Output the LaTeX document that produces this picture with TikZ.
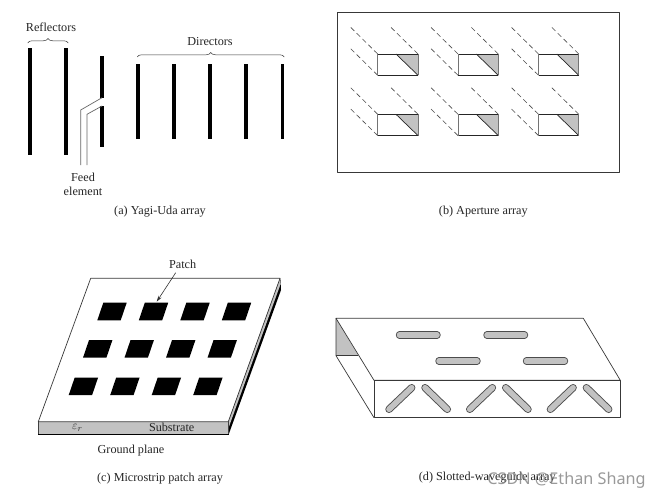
\documentclass[tikz,border=0pt]{standalone}
\usepackage{fontspec}
\setmainfont{Liberation Serif}
\newfontfamily\wmfont{Noto Sans}
\usetikzlibrary{decorations.pathreplacing,arrows.meta}
\definecolor{greyfill}{gray}{0.76}
\definecolor{edge}{gray}{0.22}
\tikzset{
  bar/.style={fill=black,draw=none},
  lbl/.style={inner sep=0pt,font=\fontsize{12.2}{14}\selectfont,text=black!85},
  captext/.style={inner sep=0pt,font=\fontsize{12.2}{14}\selectfont,text=black!85},
  bracket/.style={draw=edge,line width=.5pt,decorate,decoration={brace,amplitude=4.5pt}},
  dashline/.style={draw=black!70,line width=.6pt,dash pattern=on 5pt off 3.2pt},
  slotout/.style={draw=black!70,line width=7.4pt,line cap=round},
  slotin/.style={draw=greyfill,line width=5.6pt,line cap=round},
  outline/.style={draw=edge,line width=.7pt,line join=round},
}
\begin{document}
\begin{tikzpicture}[x=1pt,y=-1pt]
\useasboundingbox (0,0) rectangle (660,498);
\fill[white] (0,0) rectangle (660,498);
% (a) Yagi-Uda
\fill[bar] (28,48) rectangle (31.6,155);
\fill[bar] (63.6,48) rectangle (67.8,155);
\fill[bar] (100.4,56) rectangle (103.6,98);
\fill[bar] (100.4,106) rectangle (103.6,147);
\foreach \x/\w in {138/2,173.7/2,210/1.8,246/2,282.3/1.8}
  \fill[bar] (\x-\w,64) rectangle (\x+\w,138.7);
\draw[draw=black!60,line width=.7pt] (80.7,165) -- (80.7,110) -- (102,97.7);
\draw[draw=black!60,line width=.7pt] (87,165) -- (87,114.3) -- (102,106);
\draw[bracket] (27.7,43) -- (68.3,43);
\draw[bracket] (137.3,57) -- (284.3,57);
\node[lbl] (reflectors) at (51,27) {Reflectors};
\node[lbl] (directors) at (210,42) {Directors};
\node[lbl] (feed) at (83,177) {Feed};
\node[lbl] (element) at (83,191) {element};
\node[captext] (capa) at (160,212) {(a) Yagi-Uda array};
% (b) Aperture
\draw[outline] (337,12.3) rectangle (619.3,172.3);
\foreach \cx in {377.7,458,538.5}
  \foreach \cy in {54,114.3}{
    \fill[greyfill] (\cx+18.3,\cy) -- (\cx+40.3,\cy) -- (\cx+40.3,\cy+21.3) -- cycle;
    \draw[dashline] (\cx,\cy) -- ++(-28.7,-28.3);
    \draw[dashline] (\cx+40.3,\cy) -- ++(-28.7,-28.3);
    \draw[dashline] (\cx,\cy+21.3) -- ++(-28.7,-28.3);
    \draw[draw=black!85,line width=.7pt] (\cx,\cy) -- (\cx+40.3,\cy);
    \draw[draw=black!85,line width=.7pt] (\cx,\cy+21.3) -- (\cx+40.3,\cy+21.3);
    \draw[draw=black!85,line width=.7pt] (\cx+18.3,\cy) -- (\cx+40.3,\cy+21.3);
    \draw[draw=black!55,line width=1pt] (\cx,\cy) -- (\cx,\cy+21.3);
    \draw[draw=black!55,line width=1pt] (\cx+40.3,\cy) -- (\cx+40.3,\cy+21.3);
  }
\node[captext] (capb) at (483.3,212) {(b) Aperture array};
% (c) Microstrip
\fill[black] (228.3,421.7) -- (280.4,278.3) -- (281,290) -- (228.6,434.6) -- cycle;
\fill[greyfill] (228.3,421.7) -- (280,278.3) -- (280.6,284) -- (228.5,428) -- cycle;
\fill[greyfill] (38.3,421.7) rectangle (228.3,433.6);
\draw[outline] (90.7,278.3) -- (280,278.3) -- (228.3,421.7) -- (38.3,421.7) -- cycle;
\draw[draw=black!75,line width=.6pt] (38.3,421.7) -- (38.3,433.6);
\draw[draw=black,line width=1pt] (38.3,434) -- (228.6,434);
\draw[draw=black!75,line width=.6pt] (228.3,421.7) -- (228.3,434);
\foreach \r in {0,1,2}
  \foreach \c in {0,1,2,3}
    \fill[black,shift={(41.5*\c-14.3*\r,37.4*\r)}]
      (103.3,302.7) -- (126.7,302.7) -- (120.7,320.3) -- (97.3,320.3) -- cycle;
\node[lbl] (patch) at (182.7,264) {Patch};
\coordinate (patchtip) at (156.7,301.7);
\draw[draw=black!80,line width=.6pt,-{Stealth[length=6pt,width=3.6pt]}] (175.7,272.7) -- (patchtip);
\node[lbl] (er) at (77.3,427.7) {$\varepsilon_r$};
\node[lbl] (substrate) at (171.7,427.7) {Substrate};
\node[lbl] (ground) at (131,451) {Ground plane};
\node[captext] (capc) at (160,478.7) {(c) Microstrip patch array};
% (d) Slotted waveguide
\fill[greyfill] (336,318.3) -- (336,355.7) -- (358.3,355.7) -- cycle;
\draw[outline] (336,318.3) -- (583.3,318.3) -- (620.3,380.3) -- (374,380.3) -- cycle;
\draw[outline] (374,380.3) rectangle (620.3,417.7);
\draw[outline] (336,318.3) -- (336,355.7) -- (374,417.7);
\draw[draw=edge,line width=.6pt] (336,355.7) -- (358.3,355.7);
\foreach \ax/\ay/\bx/\by in {399.5/335/437/335, 487/335/524.5/335, 439/361/477/361, 526.5/361/564.5/361}{
  \draw[slotout] (\ax,\ay) -- (\bx,\by);
  \draw[slotin] (\ax,\ay) -- (\bx,\by);
}
\foreach \o in {0,80.7,161.4}{
  \draw[slotout] (389+\o,409.3) -- (411.7+\o,387.7);
  \draw[slotin] (389+\o,409.3) -- (411.7+\o,387.7);
  \draw[slotout] (425+\o,387.7) -- (447.3+\o,409.3);
  \draw[slotin] (425+\o,387.7) -- (447.3+\o,409.3);
}
\node[captext] (capd) at (487.3,477.7) {(d) Slotted-waveguide array};
\node[inner sep=0pt,text=black!50,opacity=.8,font=\wmfont\fontsize{16.2}{18}\selectfont] (wm) at (566.5,480) {CSDN @Ethan Shang};
\end{tikzpicture}
\end{document}
